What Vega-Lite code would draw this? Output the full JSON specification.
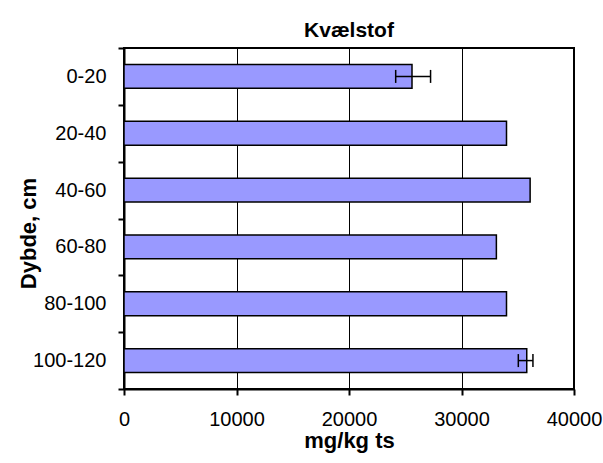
{
  "$schema": "https://vega.github.io/schema/vega-lite/v6.json",
  "width": 450,
  "height": 341,
  "autosize": {"type": "none"},
  "padding": {"left": 124, "top": 48, "right": 29, "bottom": 74},
  "background": "white",
  "title": {
    "text": "Kvælstof",
    "font": "Liberation Sans",
    "fontSize": 21,
    "fontWeight": "bold",
    "color": "black",
    "anchor": "middle",
    "baseline": "alphabetic",
    "offset": 12,
    "dy": 32
  },
  "data": {
    "values": [
      {"depth": "0-20", "value": 25600, "lo": 24150, "hi": 27250},
      {"depth": "20-40", "value": 34000, "lo": null, "hi": null},
      {"depth": "40-60", "value": 36100, "lo": null, "hi": null},
      {"depth": "60-80", "value": 33100, "lo": null, "hi": null},
      {"depth": "80-100", "value": 34000, "lo": null, "hi": null},
      {"depth": "100-120", "value": 35800, "lo": 35050, "hi": 36350}
    ]
  },
  "encoding": {
    "y": {
      "field": "depth",
      "type": "nominal",
      "sort": ["0-20", "20-40", "40-60", "60-80", "80-100", "100-120"],
      "scale": {"paddingInner": 0, "paddingOuter": 0},
      "title": "Dybde, cm",
      "axis": {
        "tickBand": "extent",
        "grid": false,
        "labelPadding": 12,
        "titleFontSize": 22,
        "titleX": -89,
        "titleY": 185,
        "titleBaseline": "alphabetic",
        "titleAngle": -90
      }
    }
  },
  "layer": [
    {
      "mark": {"type": "bar", "fill": "#9999FF", "stroke": "black", "strokeWidth": 1.5, "height": {"band": 0.42}},
      "encoding": {
        "x": {
          "field": "value",
          "type": "quantitative",
          "title": "mg/kg ts",
          "scale": {"domain": [0, 40000], "nice": false},
          "axis": {
            "values": [0, 10000, 20000, 30000, 40000],
            "format": "d",
            "grid": true,
            "labelPadding": 14,
            "labelFlush": false,
            "titleY": 58,
            "titleFontSize": 22,
            "titleBaseline": "alphabetic"
          }
        }
      }
    },
    {
      "transform": [{"filter": "isValid(datum.lo)"}],
      "mark": {"type": "rule", "color": "black", "strokeWidth": 1.5},
      "encoding": {
        "x": {"field": "lo", "type": "quantitative", "title": "mg/kg ts"},
        "x2": {"field": "hi"}
      }
    },
    {
      "transform": [{"filter": "isValid(datum.lo)"}],
      "mark": {"type": "tick", "color": "black", "thickness": 1.5, "size": 13, "opacity": 1},
      "encoding": {
        "x": {"field": "lo", "type": "quantitative", "title": "mg/kg ts"}
      }
    },
    {
      "transform": [{"filter": "isValid(datum.hi)"}],
      "mark": {"type": "tick", "color": "black", "thickness": 1.5, "size": 13, "opacity": 1},
      "encoding": {
        "x": {"field": "hi", "type": "quantitative", "title": "mg/kg ts"}
      }
    }
  ],
  "config": {
    "view": {"stroke": "black", "strokeWidth": 2},
    "axis": {
      "gridColor": "black",
      "gridWidth": 1,
      "gridOpacity": 1,
      "domainColor": "black",
      "domainWidth": 2,
      "tickColor": "black",
      "tickSize": 6,
      "tickWidth": 2,
      "labelFont": "Liberation Sans",
      "labelFontSize": 20,
      "labelColor": "black",
      "titleFont": "Liberation Sans",
      "titleFontSize": 20,
      "titleFontWeight": "bold",
      "titleColor": "black"
    }
  }
}
